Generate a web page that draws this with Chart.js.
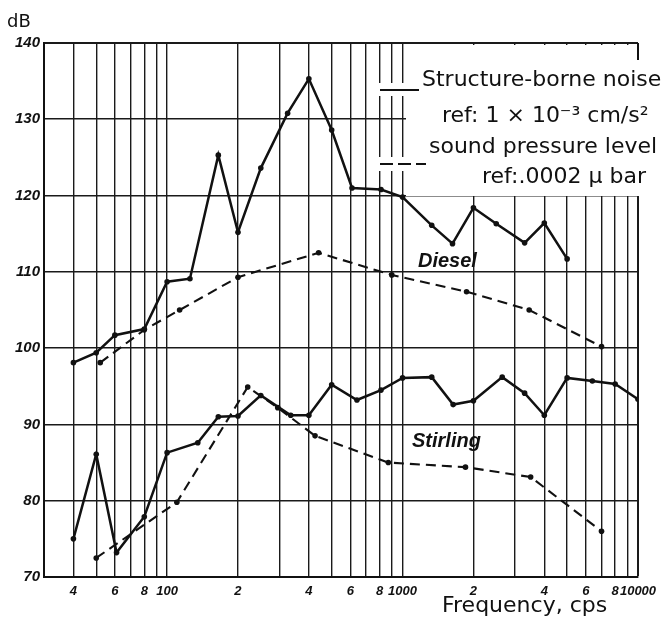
<!DOCTYPE html>
<html>
<head>
<meta charset="utf-8">
<script src="https://cdn.jsdelivr.net/npm/chart.js@4.4.0/dist/chart.umd.min.js"></script>
<style>
  html, body { margin: 0; padding: 0; background: #fff; }
  #wrap { width: 669px; height: 626px; }
</style>
</head>
<body>
<div id="wrap"><canvas id="myChart" width="669" height="626"></canvas></div>
<script>
// frequencies (cps) and levels (dB)
const dieselStructFreq = [40, 50, 60, 80, 100, 125, 165, 200, 250, 325, 400, 500, 610, 810, 1000, 1330, 1630, 2000, 2500, 3300, 4000, 5000];
const dieselStructDb = [98.1, 99.4, 101.7, 102.5, 108.7, 109.1, 125.3, 115.2, 123.6, 130.8, 135.3, 128.6, 121.0, 120.8, 119.8, 116.1, 113.7, 118.4, 116.3, 113.8, 116.4, 111.7];

const dieselSplFreq = [52, 80, 113, 200, 440, 900, 1870, 3450, 7000];
const dieselSplDb = [98.1, 102.4, 105.0, 109.3, 112.5, 109.6, 107.4, 105.0, 100.2];

const stirlingStructFreq = [40, 50, 61, 80, 100, 135, 165, 200, 250, 335, 400, 500, 640, 810, 1000, 1330, 1640, 2000, 2650, 3300, 4000, 5000, 6400, 8000, 10000];
const stirlingStructDb = [75.0, 86.1, 73.2, 77.9, 86.3, 87.6, 91.0, 91.1, 93.8, 91.2, 91.2, 95.2, 93.2, 94.5, 96.1, 96.2, 92.6, 93.1, 96.2, 94.1, 91.2, 96.1, 95.7, 95.3, 93.3];

const stirlingSplFreq = [50, 110, 220, 295, 425, 870, 1850, 3500, 7000];
const stirlingSplDb = [72.5, 79.8, 94.9, 92.2, 88.5, 85.0, 84.4, 83.1, 76.0];

// log grid lines and the labels printed under some of them
const xGridValues = [30, 40, 50, 60, 70, 80, 90, 100, 200, 300, 400, 500, 600, 700, 800, 900, 1000,
  2000, 3000, 4000, 5000, 6000, 7000, 8000, 9000, 10000];
const xLabelValues = [40, 60, 80, 100, 200, 400, 600, 800, 1000, 2000, 4000, 6000, 8000, 10000];
const xLabelTexts = ['4', '6', '8', '100', '2', '4', '6', '8', '1000', '2', '4', '6', '8', '10000'];

const pts = (xs, ys) => xs.map((x, i) => ({ x: x, y: ys[i] }));

const lineStyle = (dashed) => ({
  showLine: true,
  borderColor: '#111',
  backgroundColor: '#111',
  borderWidth: dashed ? 2.1 : 2.5,
  borderDash: dashed ? [10, 6] : [],
  pointRadius: 2.8,
  pointBackgroundColor: '#111',
  pointBorderWidth: 0,
  tension: 0
});

const annotate = {
  id: 'annotate',
  afterDatasetsDraw(chart) {
    const c = chart.ctx;
    c.save();
    // blank area for the key (grid is not drawn there)
    c.fillStyle = '#fff';
    c.fillRect(406, 45, 240, 151);
    c.fillRect(376, 83, 52, 13);
    c.fillRect(376, 157, 52, 14);
    c.strokeStyle = '#111';
    c.lineWidth = 2;
    c.beginPath();
    c.moveTo(638, 43);
    c.lineTo(638, 60);
    c.stroke();
    // key samples
    c.beginPath();
    c.moveTo(380, 90);
    c.lineTo(419, 90);
    c.stroke();
    c.setLineDash([13, 5]);
    c.beginPath();
    c.moveTo(380, 164);
    c.lineTo(426, 164);
    c.stroke();
    c.setLineDash([]);

    c.fillStyle = '#111';
    c.textBaseline = 'alphabetic';
    c.textAlign = 'left';
    c.font = '22px "DejaVu Sans"';
    c.fillText('Structure-borne noise', 422, 86);
    c.fillText('ref: 1 \u00d7 10\u207b\u00b3 cm/s\u00b2', 442, 122);
    c.fillText('sound pressure level', 429, 153);
    c.fillText('ref:.0002 \u03bc bar', 482, 183);

    c.font = 'italic bold 20px "Liberation Sans"';
    c.fillText('Diesel', 418, 267);
    c.fillText('Stirling', 412, 447);

    c.font = '18px "DejaVu Sans"';
    c.fillText('dB', 7, 27);
    c.font = '22px "DejaVu Sans"';
    c.fillText('Frequency, cps', 442, 612);
    c.restore();
  }
};

const ctx = document.getElementById('myChart').getContext('2d');

const myChart = new Chart(ctx, {
  type: 'scatter',
  data: {
    datasets: [
      { label: 'Diesel structure-borne', data: pts(dieselStructFreq, dieselStructDb), ...lineStyle(false) },
      { label: 'Diesel sound pressure', data: pts(dieselSplFreq, dieselSplDb), ...lineStyle(true) },
      { label: 'Stirling structure-borne', data: pts(stirlingStructFreq, stirlingStructDb), ...lineStyle(false) },
      { label: 'Stirling sound pressure', data: pts(stirlingSplFreq, stirlingSplDb), ...lineStyle(true) }
    ]
  },
  options: {
    responsive: false,
    animation: false,
    layout: { padding: { top: 43, right: 31, left: 0, bottom: 0 } },
    scales: {
      x: {
        type: 'logarithmic',
        min: 30,
        max: 10000,
        afterBuildTicks: (scale) => {
          scale.ticks = xGridValues.map((v) => ({ value: v }));
        },
        afterFit: (scale) => { scale.height = 49; },
        border: { display: true, color: '#111', width: 2 },
        grid: {
          color: '#1a1a1a',
          lineWidth: (c) => (c.tick && c.tick.value === 10000 ? 2 : 1.4),
          drawTicks: false
        },
        ticks: {
          autoSkip: false,
          maxRotation: 0,
          padding: 7,
          color: '#111',
          font: { family: 'Liberation Sans', size: 13, style: 'italic', weight: 'bold' },
          callback: (value) => {
            const i = xLabelValues.indexOf(value);
            return i >= 0 ? xLabelTexts[i] : '';
          }
        }
      },
      y: {
        min: 70,
        max: 140,
        afterFit: (scale) => { scale.width = 44; },
        border: { display: true, color: '#111', width: 2 },
        grid: {
          color: '#1a1a1a',
          lineWidth: (c) => (c.tick && c.tick.value === 140 ? 2 : 1.6),
          drawTicks: false
        },
        ticks: {
          stepSize: 10,
          padding: 4,
          color: '#111',
          font: { family: 'Liberation Sans', size: 15, style: 'italic', weight: 'bold' }
        }
      }
    },
    plugins: {
      legend: { display: false },
      tooltip: { enabled: false }
    }
  },
  plugins: [annotate]
});
</script>
</body>
</html>
